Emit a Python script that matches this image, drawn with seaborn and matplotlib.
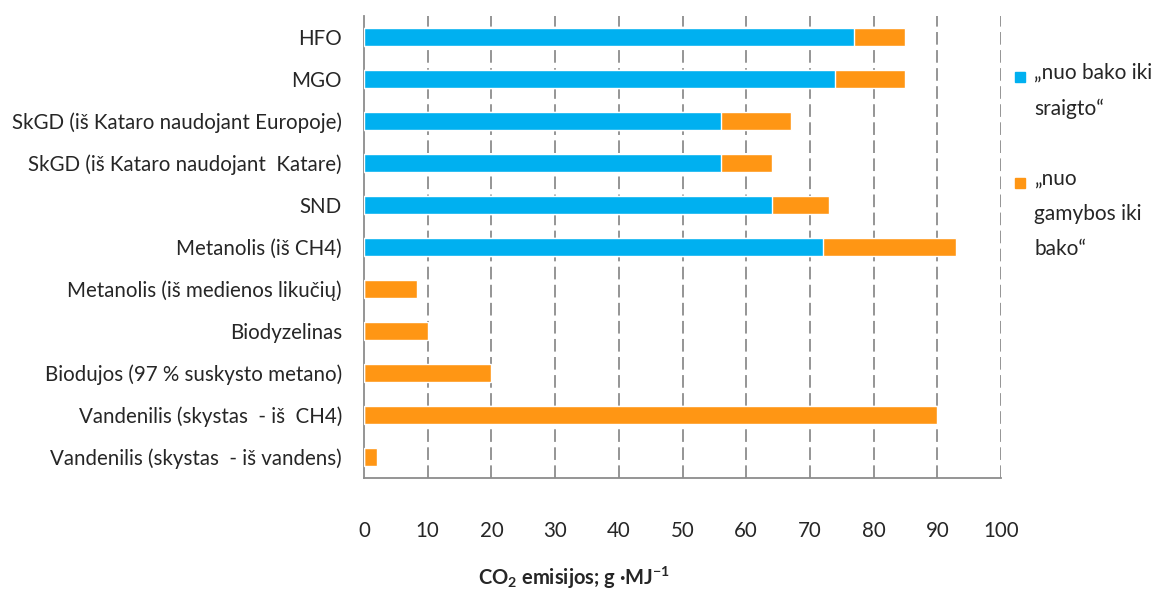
import matplotlib
matplotlib.use("Agg")
import matplotlib.pyplot as plt
from matplotlib.patches import Rectangle
import seaborn as sns
import pandas as pd

categories = [
    "HFO",
    "MGO",
    "SkGD (iš Kataro naudojant Europoje)",
    "SkGD (iš Kataro naudojant  Katare)",
    "SND",
    "Metanolis (iš CH4)",
    "Metanolis (iš medienos likučių)",
    "Biodyzelinas",
    "Biodujos (97 % suskysto metano)",
    "Vandenilis (skystas  - iš  CH4)",
    "Vandenilis (skystas  - iš vandens)",
]
tank_to_propeller = [77, 74, 56, 56, 64, 72, 0, 0, 0, 0, 0]
production_to_tank = [8, 11, 11, 8, 9, 21, 8.3, 10, 20, 90, 2]
legend_labels = ["„nuo bako iki\nsraigto“", "„nuo\ngamybos iki\nbako“"]
x_ticks = [0, 10, 20, 30, 40, 50, 60, 70, 80, 90, 100]

BLUE = "#00B0F0"
ORANGE = "#FF9614"

sns.set_theme(style="white")
plt.rcParams["font.family"] = ["Lato", "DejaVu Sans"]
plt.rcParams["mathtext.fontset"] = "custom"
plt.rcParams["mathtext.rm"] = "Lato"
plt.rcParams["mathtext.bf"] = "Lato:bold"
plt.rcParams["mathtext.default"] = "bf"

df = pd.DataFrame({
    "cat": categories,
    "blue": tank_to_propeller,
    "orange": production_to_tank,
})
df["total"] = df["blue"] + df["orange"]

fig = plt.figure(figsize=(11.55, 5.89), dpi=100)
ax = fig.add_axes([364 / 1155, 1 - 478 / 589, (1001 - 364) / 1155, (478 - 16) / 589])

sns.barplot(data=df, y="cat", x="total", order=categories, color=ORANGE,
            saturation=1, width=0.43, ax=ax, orient="h", zorder=3)
sns.barplot(data=df, y="cat", x="blue", order=categories, color=BLUE,
            saturation=1, width=0.43, ax=ax, orient="h", zorder=4)

ax.set_xlim(0, 100)
ax.set_ylim(len(categories) - 0.5, -0.5)
ax.set_xticks(x_ticks)
ax.set_ylabel("")
ax.set_xlabel("")
fig.text(574 / 1155, 1 - 578 / 589, r"CO$_{2}$ emisijos; g ·MJ$^{-1}$",
         fontsize=14.5, fontweight="bold", ha="center", va="center")

for v in x_ticks[1:]:
    ax.axvline(v, color="#8c8c8c", lw=1.3, ls=(0, (7, 3)), zorder=1)

for s in ["top", "right"]:
    ax.spines[s].set_visible(False)
for s in ["left", "bottom"]:
    ax.spines[s].set_color("#8c8c8c")
    ax.spines[s].set_linewidth(1.3)

ax.tick_params(axis="x", length=0, pad=31, labelsize=14.8)
ax.tick_params(axis="y", length=0, pad=16, labelsize=14.8)

# legend
colors = [BLUE, ORANGE]
ys = [77, 183]
for lab, c, y in zip(legend_labels, colors, ys):
    fig.patches.append(Rectangle((1015 / 1155, 1 - (y + 5) / 589), 10 / 1155, 10 / 589,
                                 transform=fig.transFigure, color=c, figure=fig))
    fig.text(1034 / 1155, 1 - (y - 14) / 589, lab, fontsize=15, va="top", ha="left",
             linespacing=1.95)

fig.savefig("out.png", dpi=100)
